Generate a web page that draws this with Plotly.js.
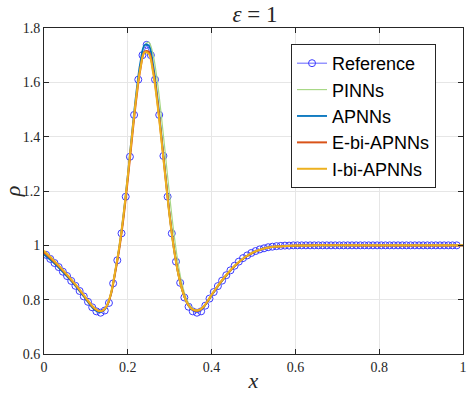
<!DOCTYPE html>
<html>
<head>
<meta charset="UTF-8">
<script src="https://cdn.plot.ly/plotly-3.0.1.min.js"></script>
<style>
  body { margin: 0; background: white; }
  #plot { width: 468px; height: 393px; }
</style>
</head>
<body>
<div id="plot"></div>
<script>
// reference solution, sampled markers
const xRef = [0.005,0.015,0.025,0.035,0.045,0.055,0.065,0.075,0.085,0.095,
  0.105,0.115,0.125,0.135,0.145,0.155,0.165,0.175,0.185,0.195,
  0.205,0.215,0.225,0.235,0.245,0.255,0.265,0.275,0.285,0.295,
  0.305,0.315,0.325,0.335,0.345,0.355,0.365,0.375,0.385,0.395,
  0.405,0.415,0.425,0.435,0.445,0.455,0.465,0.475,0.485,0.495,
  0.505,0.515,0.525,0.535,0.545,0.555,0.565,0.575,0.585,0.595,
  0.605,0.615,0.625,0.635,0.645,0.655,0.665,0.675,0.685,0.695,
  0.705,0.715,0.725,0.735,0.745,0.755,0.765,0.775,0.785,0.795,
  0.805,0.815,0.825,0.835,0.845,0.855,0.865,0.875,0.885,0.895,
  0.905,0.915,0.925,0.935,0.945,0.955,0.965,0.975,0.985];
const yRef = [0.965,0.950,0.935,0.920,0.903,0.887,0.869,0.851,0.832,0.812,
  0.792,0.772,0.757,0.752,0.760,0.788,0.860,0.945,1.044,1.179,
  1.326,1.480,1.610,1.700,1.738,1.700,1.610,1.480,1.329,1.179,
  1.044,0.940,0.862,0.808,0.774,0.757,0.752,0.757,0.778,0.804,
  0.828,0.850,0.870,0.890,0.908,0.925,0.940,0.953,0.963,0.972,
  0.979,0.985,0.989,0.993,0.995,0.997,0.998,0.999,0.999,1.000,
  1.000,1.000,1.000,1.000,1.000,1.000,1.000,1.000,1.000,1.000,
  1.000,1.000,1.000,1.000,1.000,1.000,1.000,1.000,1.000,1.000,
  1.000,1.000,1.000,1.000,1.000,1.000,1.000,1.000,1.000,1.000,
  1.000,1.000,1.000,1.000,1.000,1.000,1.000,1.000,1.000];

// network predictions
const xNet = [0,0.02,0.04,0.06,0.08,0.10,0.11,0.12,0.13,0.14,
  0.15,0.16,0.17,0.18,0.19,0.20,0.21,0.22,0.23,0.24,
  0.25,0.26,0.27,0.28,0.29,0.30,0.31,0.32,0.33,0.34,
  0.35,0.36,0.37,0.38,0.39,0.40,0.42,0.44,0.46,0.48,
  0.50,0.52,0.54,0.56,0.58,0.60,0.65,0.70,0.80,0.90,1.00];
const yPINN = [0.972,0.944,0.913,0.879,0.843,0.803,0.783,0.766,0.757,0.760,
  0.778,0.822,0.900,0.990,1.105,1.245,1.398,1.545,1.662,1.735,
  1.748,1.705,1.610,1.478,1.330,1.180,1.045,0.935,0.855,0.803,
  0.775,0.763,0.762,0.770,0.790,0.814,0.858,0.897,0.930,0.955,
  0.973,0.985,0.992,0.996,0.998,0.999,1.000,1.000,1.000,1.000,1.000];
const yAPNN = [0.966,0.940,0.910,0.877,0.841,0.801,0.781,0.764,0.755,0.758,
  0.776,0.822,0.903,0.996,1.115,1.257,1.412,1.558,1.673,1.737,
  1.735,1.668,1.552,1.408,1.255,1.110,0.990,0.899,0.835,0.792,
  0.768,0.759,0.760,0.771,0.792,0.816,0.860,0.898,0.931,0.956,
  0.974,0.986,0.993,0.996,0.998,0.999,1.000,1.000,1.000,1.000,1.000];
const yEbi = [0.975,0.946,0.915,0.881,0.845,0.805,0.785,0.768,0.758,0.760,
  0.777,0.821,0.900,0.990,1.105,1.243,1.393,1.535,1.648,1.712,
  1.712,1.648,1.538,1.398,1.250,1.108,0.990,0.900,0.836,0.793,
  0.769,0.760,0.761,0.772,0.793,0.817,0.861,0.899,0.931,0.956,
  0.974,0.986,0.993,0.996,0.998,0.999,1.000,1.000,0.999,0.999,0.999];
const yIbi = [0.980,0.950,0.918,0.884,0.847,0.807,0.787,0.770,0.759,0.760,
  0.778,0.825,0.906,0.998,1.115,1.255,1.405,1.545,1.652,1.710,
  1.705,1.640,1.530,1.392,1.245,1.104,0.987,0.898,0.835,0.793,
  0.769,0.761,0.762,0.773,0.794,0.818,0.862,0.900,0.932,0.957,
  0.975,0.986,0.993,0.996,0.998,0.999,1.000,1.000,1.000,1.000,1.000];

const traces = [
  {x: xRef, y: yRef, type: 'scatter', mode: 'lines+markers', name: 'Reference',
   line: {color: '#3a3aff', width: 0.8},
   marker: {symbol: 'circle-open', size: 7, color: '#3a3aff', line: {width: 1}}},
  {x: xNet, y: yPINN, type: 'scatter', mode: 'lines', name: 'PINNs',
   line: {color: '#a8d886', width: 1.2, shape: 'spline'}},
  {x: xNet, y: yAPNN, type: 'scatter', mode: 'lines', name: 'APNNs',
   line: {color: '#0072bd', width: 1.8, shape: 'spline'}},
  {x: xNet, y: yEbi, type: 'scatter', mode: 'lines', name: 'E-bi-APNNs',
   line: {color: '#d95319', width: 2, shape: 'spline'}},
  {x: xNet, y: yIbi, type: 'scatter', mode: 'lines', name: 'I-bi-APNNs',
   line: {color: '#edb120', width: 2, shape: 'spline'}}
];

const axisStyle = {
  showline: true, mirror: 'ticks', linecolor: '#262626', linewidth: 1,
  ticks: 'inside', ticklen: 5, tickcolor: '#262626',
  showgrid: true, gridcolor: '#e6e6e6', zeroline: false,
  tickfont: {family: 'Liberation Serif, serif', size: 14, color: '#262626'}
};

const layout = {
  width: 468, height: 393,
  margin: {l: 44, r: 5, t: 28, b: 39},
  paper_bgcolor: 'white', plot_bgcolor: 'white',
  title: {text: '<i>ε</i> = 1', xref: 'container', x: 0.545, xanchor: 'center',
          y: 0.985, yanchor: 'top',
          font: {family: 'Liberation Serif, serif', size: 23, color: '#262626'}},
  xaxis: Object.assign({}, axisStyle, {
    range: [0, 1], tickvals: [0, 0.2, 0.4, 0.6, 0.8, 1],
    title: {text: '<i>x</i>', standoff: 2,
            font: {family: 'Liberation Serif, serif', size: 22, color: '#262626'}}
  }),
  yaxis: Object.assign({}, axisStyle, {
    range: [0.6, 1.8], tickvals: [0.6, 0.8, 1, 1.2, 1.4, 1.6, 1.8],
    title: {text: '<i>ρ</i>', standoff: 6,
            font: {family: 'Liberation Serif, serif', size: 22, color: '#262626'}}
  }),
  showlegend: true,
  legend: {
    x: 0.9356, xanchor: 'right', y: 0.951, yanchor: 'top',
    bgcolor: 'white', bordercolor: '#262626', borderwidth: 1,
    font: {family: 'Liberation Sans, Arial, sans-serif', size: 18, color: '#000'},
    itemwidth: 30
  }
};

Plotly.newPlot('plot', traces, layout, {displayModeBar: false, staticPlot: true});
</script>
</body>
</html>
